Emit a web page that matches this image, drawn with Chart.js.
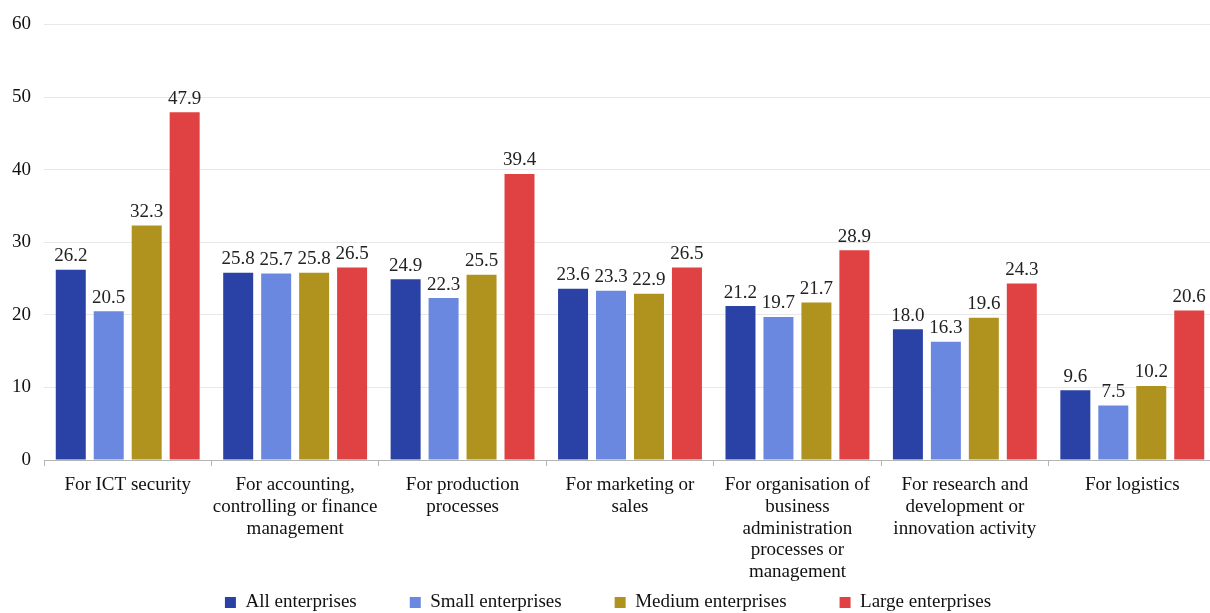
<!DOCTYPE html>
<html>
<head>
<meta charset="utf-8">
<script src="https://cdn.jsdelivr.net/npm/chart.js@4.4.1/dist/chart.umd.min.js"></script>
<style>
  html, body { margin: 0; padding: 0; background: #fff; overflow: hidden; }
  #wrap { width: 1216px; height: 613px; position: relative; }
</style>
</head>
<body>
<div id="wrap"><canvas id="chart-item"></canvas></div>
<script>
var categories = [
    ['For ICT security'],
    ['For accounting,', 'controlling or finance', 'management'],
    ['For production', 'processes'],
    ['For marketing or', 'sales'],
    ['For organisation of', 'business', 'administration', 'processes or', 'management'],
    ['For research and', 'development or', 'innovation activity'],
    ['For logistics']
];
var seriesNames = ['All enterprises', 'Small enterprises', 'Medium enterprises', 'Large enterprises'];
var allValues = [26.2, 25.8, 24.9, 23.6, 21.2, 18.0, 9.6];
var smallValues = [20.5, 25.7, 22.3, 23.3, 19.7, 16.3, 7.5];
var mediumValues = [32.3, 25.8, 25.5, 22.9, 21.7, 19.6, 10.2];
var largeValues = [47.9, 26.5, 39.4, 26.5, 28.9, 24.3, 20.6];
var yTicks = [0, 10, 20, 30, 40, 50, 60];

var colors = ['#2a42a6', '#6a88e0', '#b0921f', '#e04142'];
var fontFamily = '"Liberation Serif", "Times New Roman", serif';

// draw the value above each bar
var valueLabels = {
    id: 'valueLabels',
    afterDatasetsDraw: function (chart) {
        var ctx = chart.ctx;
        ctx.save();
        ctx.font = '19px ' + fontFamily;
        ctx.fillStyle = '#222';
        ctx.textAlign = 'center';
        ctx.textBaseline = 'bottom';
        chart.data.datasets.forEach(function (ds, i) {
            var meta = chart.getDatasetMeta(i);
            meta.data.forEach(function (bar, j) {
                ctx.fillText(ds.data[j].toFixed(1), bar.x, bar.y - 4);
            });
        });
        ctx.restore();
    }
};

var seriesValues = [allValues, smallValues, mediumValues, largeValues];
var datasets = seriesNames.map(function (name, i) {
    return {
        label: name,
        data: seriesValues[i],
        backgroundColor: colors[i],
        borderWidth: 0,
        categoryPercentage: 0.907,
        barPercentage: 0.79
    };
});

var ctx = document.getElementById('chart-item').getContext('2d');
var chart = new Chart(ctx, {
    type: 'bar',
    data: {
        labels: categories,
        datasets: datasets
    },
    plugins: [valueLabels],
    options: {
        responsive: true,
        maintainAspectRatio: false,
        animation: false,
        layout: {
            padding: { top: 22, right: 0, left: 0, bottom: -9 }
        },
        plugins: {
            tooltip: { enabled: false },
            legend: {
                display: true,
                position: 'bottom',
                labels: {
                    boxWidth: 11,
                    boxHeight: 11,
                    padding: 53,
                    color: '#111',
                    font: { family: fontFamily, size: 19 }
                }
            }
        },
        scales: {
            x: {
                grid: {
                    display: true,
                    drawOnChartArea: false,
                    drawTicks: true,
                    tickLength: 6,
                    color: '#b5b5b5'
                },
                border: { display: true, color: '#b5b5b5', width: 1 },
                ticks: {
                    color: '#111',
                    padding: 8,
                    maxRotation: 0,
                    autoSkip: false,
                    font: { family: fontFamily, size: 19, lineHeight: 1.15 }
                },
                afterFit: function (scale) {
                    scale.height = 80;
                    // long category labels run down past the axis box
                    scale._computeLabelArea = function () { return null; };
                }
            },
            y: {
                min: 0,
                max: 60,
                afterBuildTicks: function (scale) {
                    scale.ticks = yTicks.map(function (v) { return { value: v }; });
                },
                grid: {
                    color: '#e8e8e8',
                    drawTicks: false
                },
                border: { display: false },
                ticks: {
                    color: '#111',
                    padding: 13,
                    font: { family: fontFamily, size: 19 }
                },
                afterFit: function (scale) {
                    scale.width = 44;
                }
            }
        }
    }
});
</script>
</body>
</html>
